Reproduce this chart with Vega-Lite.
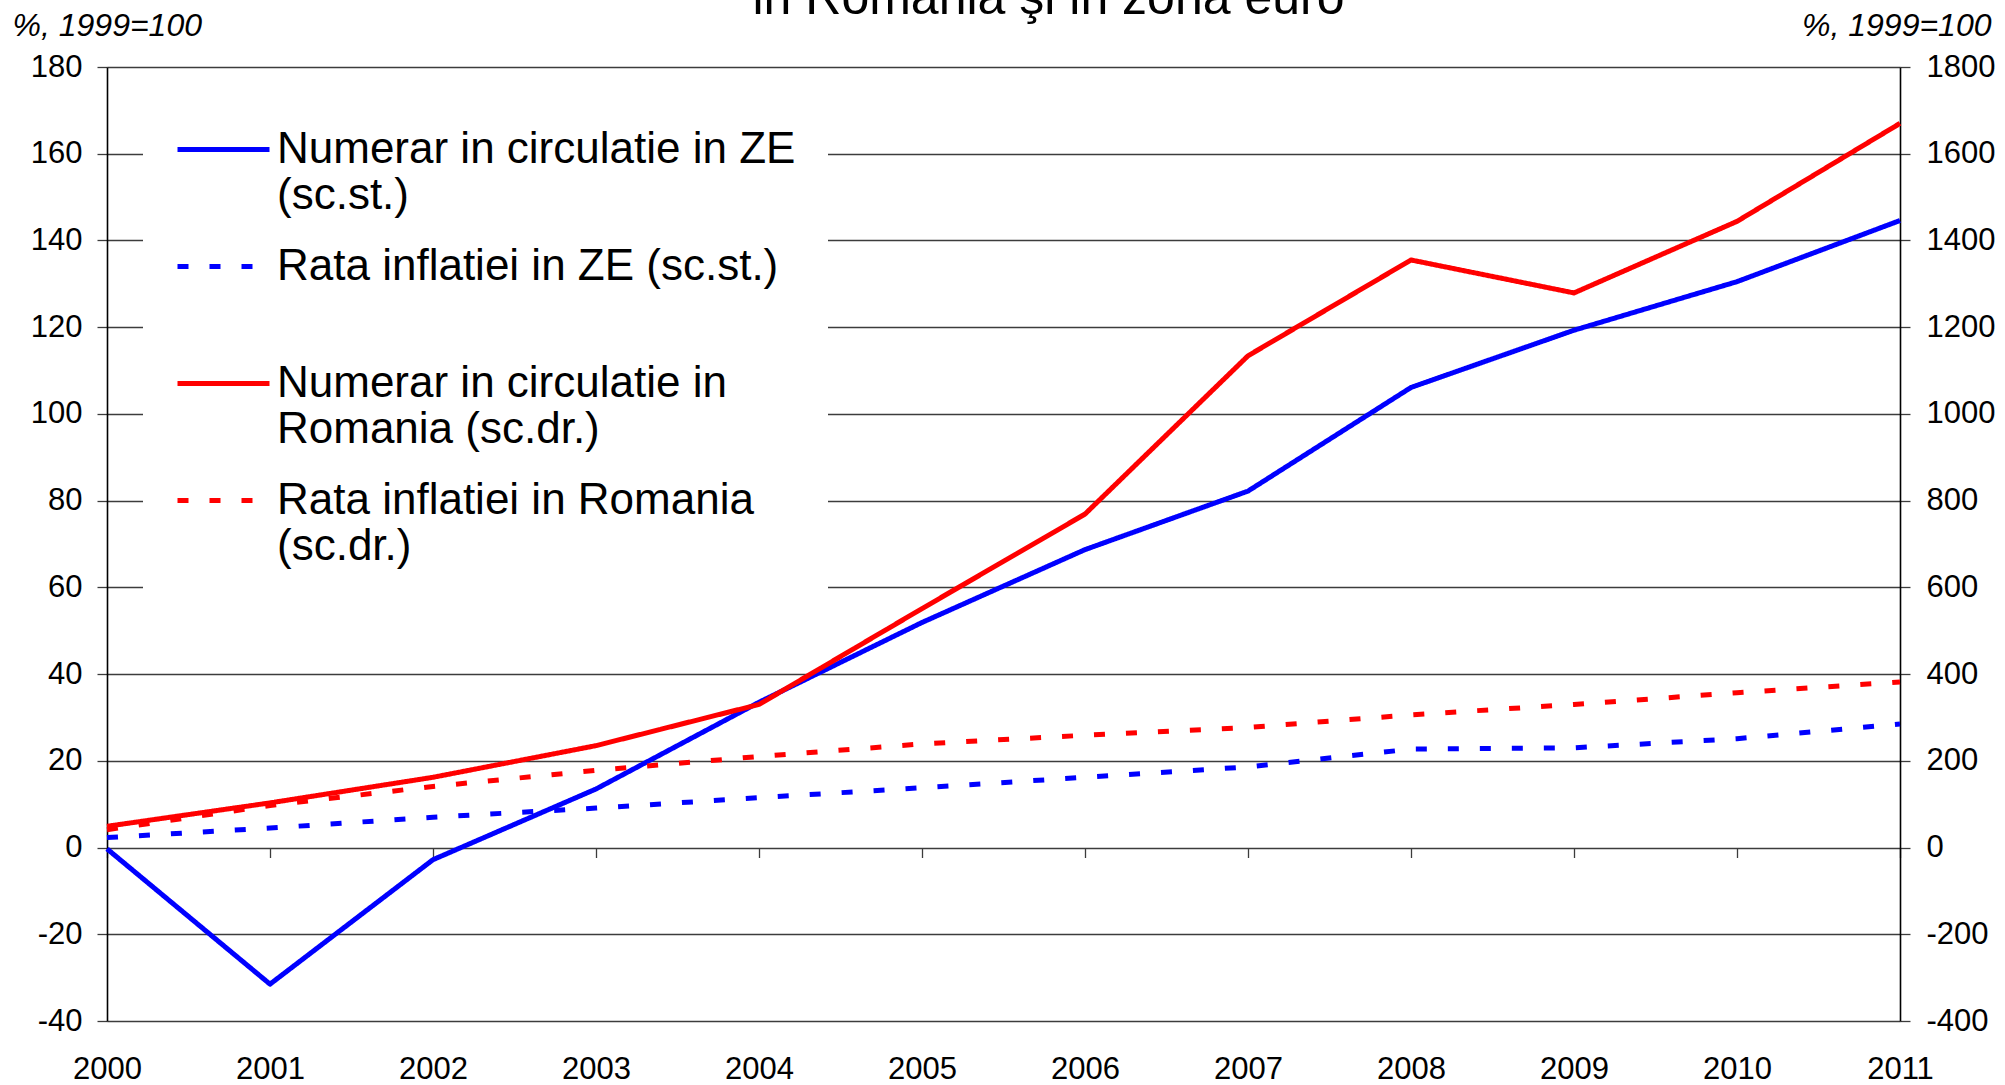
{
  "$schema": "https://vega.github.io/schema/vega-lite/v6.json",
  "width": 1793,
  "height": 954,
  "autosize": {"type": "none"},
  "padding": {"left": 107, "top": 67, "right": 105, "bottom": 64},
  "background": "white",
  "config": {
    "view": {"stroke": null},
    "font": "Liberation Sans",
    "axis": {"labelFont": "Liberation Sans", "titleFont": "Liberation Sans", "labelColor": "black", "titleColor": "black"}
  },
  "title": {
    "text": "in Romania şi in zona euro",
    "fontSize": 50,
    "font": "Liberation Sans",
    "fontWeight": "normal",
    "color": "black",
    "anchor": "middle",
    "frame": "group",
    "dx": 45,
    "baseline": "alphabetic",
    "offset": -55
  },
  "datasets": {
    "ze": [
      {"year": 2000, "series": "Numerar in circulatie in ZE (sc.st.)", "value": -0.3},
      {"year": 2001, "series": "Numerar in circulatie in ZE (sc.st.)", "value": -31.5},
      {"year": 2002, "series": "Numerar in circulatie in ZE (sc.st.)", "value": -2.8},
      {"year": 2003, "series": "Numerar in circulatie in ZE (sc.st.)", "value": 13.5},
      {"year": 2004, "series": "Numerar in circulatie in ZE (sc.st.)", "value": 33.5},
      {"year": 2005, "series": "Numerar in circulatie in ZE (sc.st.)", "value": 51.9},
      {"year": 2006, "series": "Numerar in circulatie in ZE (sc.st.)", "value": 68.7},
      {"year": 2007, "series": "Numerar in circulatie in ZE (sc.st.)", "value": 82.2},
      {"year": 2008, "series": "Numerar in circulatie in ZE (sc.st.)", "value": 106.1},
      {"year": 2009, "series": "Numerar in circulatie in ZE (sc.st.)", "value": 119.3},
      {"year": 2010, "series": "Numerar in circulatie in ZE (sc.st.)", "value": 130.5},
      {"year": 2011, "series": "Numerar in circulatie in ZE (sc.st.)", "value": 144.6},
      {"year": 2000, "series": "Rata inflatiei in ZE (sc.st.)", "value": 2.3},
      {"year": 2001, "series": "Rata inflatiei in ZE (sc.st.)", "value": 4.5},
      {"year": 2002, "series": "Rata inflatiei in ZE (sc.st.)", "value": 7.0},
      {"year": 2003, "series": "Rata inflatiei in ZE (sc.st.)", "value": 9.1},
      {"year": 2004, "series": "Rata inflatiei in ZE (sc.st.)", "value": 11.5},
      {"year": 2005, "series": "Rata inflatiei in ZE (sc.st.)", "value": 13.8},
      {"year": 2006, "series": "Rata inflatiei in ZE (sc.st.)", "value": 16.2},
      {"year": 2007, "series": "Rata inflatiei in ZE (sc.st.)", "value": 18.6},
      {"year": 2008, "series": "Rata inflatiei in ZE (sc.st.)", "value": 22.7},
      {"year": 2009, "series": "Rata inflatiei in ZE (sc.st.)", "value": 23.0},
      {"year": 2010, "series": "Rata inflatiei in ZE (sc.st.)", "value": 25.1},
      {"year": 2011, "series": "Rata inflatiei in ZE (sc.st.)", "value": 28.5}
    ],
    "ro": [
      {"year": 2000, "series": "Numerar in circulatie in Romania (sc.dr.)", "value": 49},
      {"year": 2001, "series": "Numerar in circulatie in Romania (sc.dr.)", "value": 103},
      {"year": 2002, "series": "Numerar in circulatie in Romania (sc.dr.)", "value": 162},
      {"year": 2003, "series": "Numerar in circulatie in Romania (sc.dr.)", "value": 235},
      {"year": 2004, "series": "Numerar in circulatie in Romania (sc.dr.)", "value": 330},
      {"year": 2005, "series": "Numerar in circulatie in Romania (sc.dr.)", "value": 551},
      {"year": 2006, "series": "Numerar in circulatie in Romania (sc.dr.)", "value": 769},
      {"year": 2007, "series": "Numerar in circulatie in Romania (sc.dr.)", "value": 1134},
      {"year": 2008, "series": "Numerar in circulatie in Romania (sc.dr.)", "value": 1355},
      {"year": 2009, "series": "Numerar in circulatie in Romania (sc.dr.)", "value": 1279},
      {"year": 2010, "series": "Numerar in circulatie in Romania (sc.dr.)", "value": 1444},
      {"year": 2011, "series": "Numerar in circulatie in Romania (sc.dr.)", "value": 1670},
      {"year": 2000, "series": "Rata inflatiei in Romania (sc.dr.)", "value": 41},
      {"year": 2001, "series": "Rata inflatiei in Romania (sc.dr.)", "value": 97},
      {"year": 2002, "series": "Rata inflatiei in Romania (sc.dr.)", "value": 141},
      {"year": 2003, "series": "Rata inflatiei in Romania (sc.dr.)", "value": 178},
      {"year": 2004, "series": "Rata inflatiei in Romania (sc.dr.)", "value": 210},
      {"year": 2005, "series": "Rata inflatiei in Romania (sc.dr.)", "value": 239},
      {"year": 2006, "series": "Rata inflatiei in Romania (sc.dr.)", "value": 259},
      {"year": 2007, "series": "Rata inflatiei in Romania (sc.dr.)", "value": 277},
      {"year": 2008, "series": "Rata inflatiei in Romania (sc.dr.)", "value": 306},
      {"year": 2009, "series": "Rata inflatiei in Romania (sc.dr.)", "value": 330},
      {"year": 2010, "series": "Rata inflatiei in Romania (sc.dr.)", "value": 357},
      {"year": 2011, "series": "Rata inflatiei in Romania (sc.dr.)", "value": 382}
    ]
  },
  "layer": [
    {
      "data": {"name": "ze"},
      "mark": {"type": "line", "strokeWidth": 5, "strokeCap": "butt", "strokeJoin": "round"},
      "encoding": {
        "x": {
          "field": "year", "type": "quantitative",
          "scale": {"domain": [2000, 2011], "nice": false, "zero": false},
          "axis": {
            "orient": "bottom", "values": [2000,2001,2002,2003,2004,2005,2006,2007,2008,2009,2010,2011],
            "format": "d", "labelFontSize": 31, "labelPadding": 33, "ticks": false, "domain": false, "grid": false,
            "title": null, "labelFlush": false, "labelOverlap": false
          }
        },
        "y": {
          "field": "value", "type": "quantitative",
          "scale": {"domain": [-40, 180], "nice": false, "zero": false},
          "axis": {
            "orient": "left", "values": [-40,-20,0,20,40,60,80,100,120,140,160,180],
            "labelExpr": "toString(datum.value)",
            "grid": true, "gridColor": "#3c3c3c", "gridWidth": 1.3,
            "domainColor": "black", "domainWidth": 1.6,
            "tickColor": "#3c3c3c", "tickWidth": 1.3, "tickSize": 10,
            "labelFontSize": 31, "labelPadding": 15,
            "title": "%, 1999=100", "titleFontSize": 32, "titleFontStyle": "italic", "titleFontWeight": "normal",
            "titleAngle": 0, "titleAlign": "left", "titleBaseline": "alphabetic", "titleX": -95, "titleY": -32
          }
        },
        "color": {
          "field": "series", "type": "nominal",
          "scale": {
            "domain": ["Numerar in circulatie in ZE (sc.st.)", "Rata inflatiei in ZE (sc.st.)", "Numerar in circulatie in Romania (sc.dr.)", "Rata inflatiei in Romania (sc.dr.)"],
            "range": ["#0000ff", "#0000ff", "#ff0000", "#ff0000"]
          },
          "legend": {
            "orient": "none", "legendX": 36, "legendY": 2, "title": null,
            "fillColor": "white", "padding": 32,
            "symbolType": "stroke", "symbolSize": 8464, "symbolStrokeWidth": 5,
            "labelFontSize": 44, "labelFont": "Liberation Sans", "labelColor": "black", "labelLimit": 3000,
            "labelOffset": 5, "labelBaseline": "middle", "rowPadding": 0,
            "labelExpr": "datum.label == 'Numerar in circulatie in ZE (sc.st.)' ? ['Numerar in circulatie in ZE', '(sc.st.)'] : datum.label == 'Rata inflatiei in ZE (sc.st.)' ? ['Rata inflatiei in ZE (sc.st.)', ' '] : datum.label == 'Numerar in circulatie in Romania (sc.dr.)' ? ['Numerar in circulatie in', 'Romania (sc.dr.)'] : ['Rata inflatiei in Romania', '(sc.dr.)']"
          }
        },
        "strokeDash": {
          "field": "series", "type": "nominal",
          "scale": {
            "domain": ["Numerar in circulatie in ZE (sc.st.)", "Rata inflatiei in ZE (sc.st.)", "Numerar in circulatie in Romania (sc.dr.)", "Rata inflatiei in Romania (sc.dr.)"],
            "range": [[1, 0], [11, 21], [1, 0], [11, 21]]
          },
          "legend": null
        }
      }
    },
    {
      "data": {"name": "ro"},
      "mark": {"type": "line", "strokeWidth": 5, "strokeCap": "butt", "strokeJoin": "round"},
      "encoding": {
        "x": {
          "field": "year", "type": "quantitative",
          "scale": {"domain": [2000, 2011], "nice": false, "zero": false},
          "axis": {
            "orient": "bottom", "offset": -173.5, "values": [2000,2001,2002,2003,2004,2005,2006,2007,2008,2009,2010,2011],
            "labels": false, "ticks": true, "tickSize": 10, "tickColor": "#3c3c3c", "tickWidth": 1.3,
            "domain": false, "grid": false, "title": null
          }
        },
        "y": {
          "field": "value", "type": "quantitative",
          "scale": {"domain": [-400, 1800], "nice": false, "zero": false},
          "axis": {
            "orient": "right", "values": [-400,-200,0,200,400,600,800,1000,1200,1400,1600,1800],
            "labelExpr": "toString(datum.value)",
            "grid": false,
            "domainColor": "black", "domainWidth": 1.6,
            "tickColor": "#3c3c3c", "tickWidth": 1.3, "tickSize": 10,
            "labelFontSize": 31, "labelPadding": 16,
            "title": "%, 1999=100", "titleFontSize": 32, "titleFontStyle": "italic", "titleFontWeight": "normal",
            "titleAngle": 0, "titleAlign": "right", "titleBaseline": "alphabetic", "titleX": 91, "titleY": -32
          }
        },
        "color": {"field": "series", "type": "nominal"},
        "strokeDash": {"field": "series", "type": "nominal", "legend": null}
      }
    }
  ],
  "resolve": {"scale": {"y": "independent", "x": "independent"}, "axis": {"x": "independent", "y": "independent"}}
}
